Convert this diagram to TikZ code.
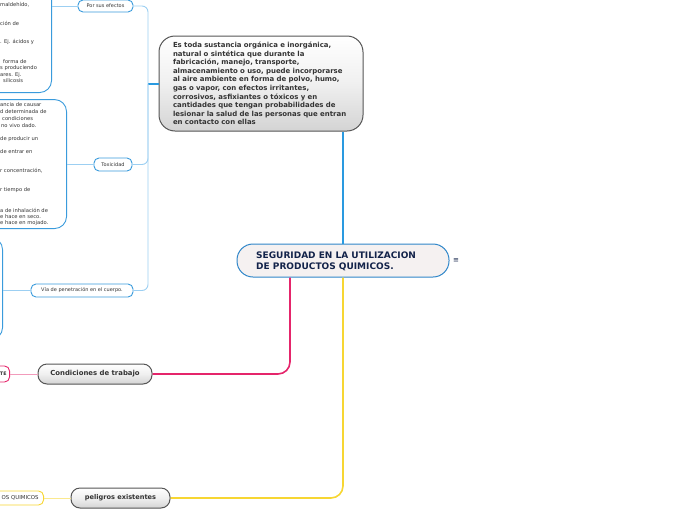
\documentclass[tikz,border=0pt]{standalone}
\usepackage{fontspec}
\setmainfont{DejaVu Sans}
\definecolor{mainblue}{HTML}{2F86C9}
\definecolor{linkblue}{HTML}{2A9AE0}
\definecolor{lightblue}{HTML}{9CCFF2}
\definecolor{boxblue}{HTML}{3A9BDC}
\definecolor{navy}{HTML}{13234A}
\definecolor{pinkline}{HTML}{E5256B}
\definecolor{lightpink}{HTML}{F29BBB}
\definecolor{yellowline}{HTML}{F7D632}
\definecolor{lightyellow}{HTML}{FBE98E}
\definecolor{darkgray}{HTML}{555555}
\definecolor{txtgray}{HTML}{333333}
\definecolor{mainfill}{HTML}{F5F1F1}
\tikzset{
  graybox/.style={draw=darkgray, line width=1pt, rounded corners=9pt, top color=white, bottom color=black!17, middle color=black!6, inner sep=0pt, font=\bfseries\fontsize{6.9}{8}\selectfont, text=txtgray},
  smallbox/.style={draw=boxblue, line width=0.9pt, fill=white, rounded corners=5pt, inner sep=0pt, font=\fontsize{5}{6}\selectfont, text=txtgray},
  leftbox/.style={draw=boxblue, line width=0.9pt, fill=white, rounded corners=12pt},
  frag/.style={anchor=west, inner sep=0pt, font=\fontsize{5.2}{6}\selectfont, text=txtgray},
  thinblue/.style={draw=lightblue, line width=0.9pt, rounded corners=6pt},
}
\begin{document}
\begin{tikzpicture}[x=1pt,y=-1pt]
\useasboundingbox (0,0) rectangle (696,520);
\clip (0,0) rectangle (696,520);

% left boxes
\node[leftbox, minimum width=90pt, minimum height=120pt, anchor=south east] (box1) at (52,93) {};
\node[leftbox, minimum width=100pt, minimum height=129pt, anchor=south east] (box2) at (67,229) {};
\node[leftbox, minimum width=60pt, minimum height=102pt, anchor=south east] (box3) at (3,340) {};

\foreach \i/\yy/\xx/\t in {1/5/0/{maldehído,}, 2/23/0/{ción de}, 3/42/0/{. Ej. ácidos y}, 4/62/3/{forma de}, 5/68/0/{s produciendo}, 6/75/0/{ares. Ej.}, 7/81/3/{silicosis}}
  \node[frag] (ta\i) at (\xx,\yy) {\t};
\foreach \i/\yy/\xx/\t in {1/105/0/{ancia de causar}, 2/112/0/{d determinada de}, 3/119/2/{condiciones}, 4/126/1/{no vivo dado.}, 5/139/0/{de producir un}, 6/152/0/{de entrar en}, 7/171/0/{r concentración,}, 8/190/0/{r tiempo de}, 9/210/0/{a de inhalación de}, 10/217/0/{e hace en seco.}, 11/223/0/{e hace en mojado.}}
  \node[frag] (tb\i) at (\xx,\yy) {\t};

% main node
\node[draw=mainblue, line width=1pt, fill=mainfill, rounded corners=16pt, minimum width=212pt, minimum height=33pt, inner sep=0pt] (main) at (343,260.5) {};
\node[anchor=west, inner sep=0pt, align=left, text=navy, font=\bfseries\fontsize{9}{11}\selectfont] (maintxt) at (256,261.5) {SEGURIDAD EN LA UTILIZACION\\DE PRODUCTOS QUIMICOS.};
\node[inner sep=0pt, text=navy, font=\fontsize{7}{8}\selectfont] (menu) at (456,261) {≡};

% definition node
\node[graybox, minimum width=204pt, minimum height=95pt, rounded corners=16pt, text width=176pt, align=left, inner xsep=14pt, font=\bfseries\fontsize{6.95}{8.6}\selectfont] (def) at (261,83.5) {Es toda sustancia orgánica e inorgánica,\\natural o sintética que durante la\\fabricación, manejo, transporte,\\almacenamiento o uso, puede incorporarse\\al aire ambiente en forma de polvo, humo,\\gas o vapor, con efectos irritantes,\\corrosivos, asfixiantes o tóxicos y en\\cantidades que tengan probabilidades de\\lesionar la salud de las personas que entran\\en contacto con ellas};

% blue small nodes
\node[smallbox, minimum width=55pt, minimum height=12pt] (efectos) at (105.5,6) {Por sus efectos};
\node[smallbox, minimum width=38pt, minimum height=13pt] (tox) at (113,164.5) {Toxicidad};
\node[smallbox, minimum width=102pt, minimum height=13pt] (via) at (82,290.5) {Vía de penetración en el cuerpo.};

% gray nodes
\node[graybox, minimum width=114pt, minimum height=20pt] (cond) at (95,374) {Condiciones de trabajo};
\node[graybox, minimum width=99pt, minimum height=20pt, font=\bfseries\fontsize{6.6}{8}\selectfont] (pelig) at (120.5,498) {peligros existentes};

% cut-off child nodes
\node[draw=pinkline, line width=0.9pt, fill=white, rounded corners=5pt, minimum height=16pt, text width=60pt, align=right, inner xsep=3pt, inner ysep=0pt, anchor=east, font=\bfseries\fontsize{4.8}{6}\selectfont, text=txtgray] (pinkchild) at (10,374) {TE};
\node[draw=yellowline, line width=0.9pt, fill=white, rounded corners=5pt, minimum height=14pt, text width=70pt, align=right, inner xsep=5pt, inner ysep=0pt, anchor=east, font=\fontsize{5.4}{6}\selectfont, text=txtgray] (ychild) at (44,498) {OS QUIMICOS};

% connectors
\draw[linkblue, line width=2.4pt] (main.north) -- (def.south -| main.north);
\coordinate (fork) at (148,84);
\draw[linkblue, line width=1.8pt] (def.west |- fork) -- (fork);
\draw[thinblue] (fork) -- (148,6) -- (efectos.east);
\draw[thinblue] (fork) -- (148,164.5) -- (tox.east);
\draw[thinblue] (fork) -- (148,290.5) -- (via.east);
\draw[draw=lightblue, line width=0.9pt] (efectos.west) -- (box1.east |- efectos.west);
\draw[draw=lightblue, line width=0.9pt] (tox.west) -- (box2.east |- tox.west);
\draw[draw=lightblue, line width=0.9pt] (via.west) -- (box3.east |- via.west);

\draw[pinkline, line width=1.6pt, rounded corners=12pt] (main.south -| 290,0) -- (290,374) -- (cond.east);
\draw[lightpink, line width=0.9pt] (cond.west) -- (pinkchild.east);
\draw[yellowline, line width=1.6pt, rounded corners=12pt] (main.south) -- (343,498) -- (pelig.east);
\draw[lightyellow, line width=0.9pt] (pelig.west) -- (ychild.east);
\end{tikzpicture}
\end{document}
